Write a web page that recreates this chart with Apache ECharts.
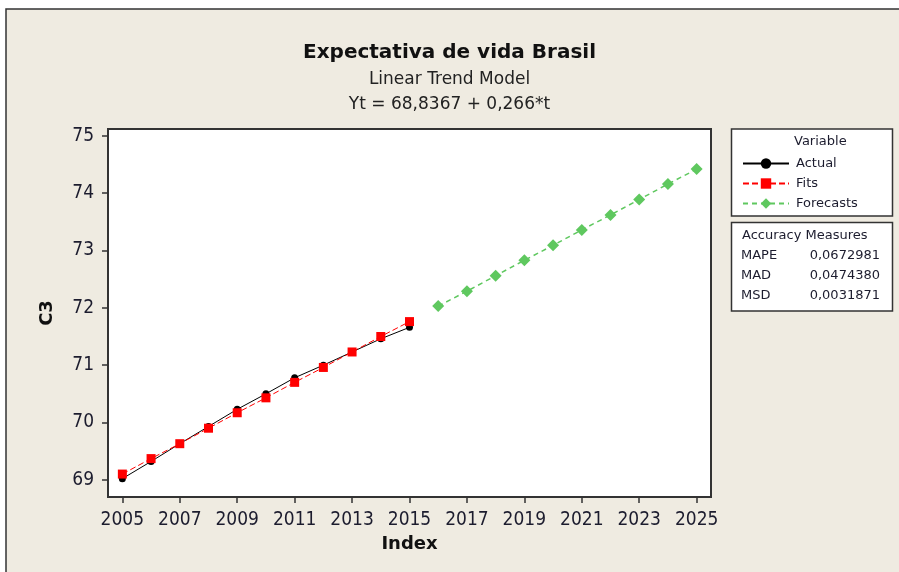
<!DOCTYPE html>
<html>
<head>
<meta charset="utf-8">
<script src="https://cdn.jsdelivr.net/npm/echarts@6/dist/echarts.min.js"></script>
<style>
  html, body { margin: 0; padding: 0; background: #fff; }
  #chart { width: 899px; height: 572px; }
</style>
</head>
<body>
<div id="chart"></div>
<script>
// data
const actualYears = [2005, 2006, 2007, 2008, 2009, 2010, 2011, 2012, 2013, 2014, 2015];
const actualValues = [69.02, 69.32, 69.63, 69.93, 70.23, 70.50, 70.78, 71.00, 71.23, 71.46, 71.66];
const fitValues = [69.10, 69.37, 69.63, 69.90, 70.17, 70.43, 70.70, 70.96, 71.23, 71.50, 71.76];
const forecastYears = [2016, 2017, 2018, 2019, 2020, 2021, 2022, 2023, 2024, 2025];
const forecastValues = [72.03, 72.29, 72.56, 72.83, 73.09, 73.36, 73.62, 73.89, 74.16, 74.42];
const xTicks = [2005, 2007, 2009, 2011, 2013, 2015, 2017, 2019, 2021, 2023, 2025];
const yTicks = [69, 70, 71, 72, 73, 74, 75];
const accuracyNames = ["MAPE", "MAD", "MSD"];
const accuracyValues = ["0,0672981", "0,0474380", "0,0031871"];

const font = "DejaVu Sans";
const condensed = "DejaVu Sans Condensed";
const textColor = "#1c1c2e";

let chart = echarts.init(document.getElementById("chart"));

let pairs = function(xs, ys) {
  return xs.map((x, i) => [x, ys[i]]);
};

let accuracyTexts = [];
for (let i = 0; i < accuracyNames.length; i++) {
  accuracyTexts.push({
    type: "text",
    left: 741,
    top: 249 + i * 20.3,
    style: { text: accuracyNames[i], fontFamily: font, fontSize: 13, fill: textColor }
  });
  accuracyTexts.push({
    type: "text",
    right: 19,
    top: 249 + i * 20.3,
    style: { text: accuracyValues[i], fontFamily: font, fontSize: 13, fill: textColor }
  });
}

let option = {
  backgroundColor: "#fff",
  animation: false,
  title: [
    {
      text: "Expectativa de vida Brasil",
      left: "center",
      top: 38,
      textStyle: { fontFamily: font, fontSize: 20, fontWeight: "bold", color: "#111" }
    },
    {
      text: "Linear Trend Model\nYt = 68,8367 + 0,266*t",
      left: "center",
      top: 62,
      textStyle: { fontFamily: font, fontSize: 17, fontWeight: "normal", color: "#222", lineHeight: 25 }
    }
  ],
  graphic: [
    {
      type: "rect",
      z: -10,
      shape: { x: 6, y: 9, width: 1000, height: 700 },
      style: { fill: "#efebe1", stroke: "#333", lineWidth: 1.5 }
    },
    {
      type: "rect",
      shape: { x: 731.5, y: 129, width: 161, height: 87 },
      style: { fill: "#fff", stroke: "#333", lineWidth: 1.5 }
    },
    {
      type: "text",
      left: 794,
      top: 135,
      style: { text: "Variable", fontFamily: font, fontSize: 13, fill: textColor }
    },
    {
      type: "rect",
      shape: { x: 731.5, y: 222.5, width: 161, height: 88.5 },
      style: { fill: "#fff", stroke: "#333", lineWidth: 1.5 }
    },
    {
      type: "text",
      left: 742,
      top: 229,
      style: { text: "Accuracy Measures", fontFamily: font, fontSize: 13, fill: textColor }
    }
  ].concat(accuracyTexts),
  legend: {
    orient: "vertical",
    left: 737,
    top: 152,
    itemWidth: 46,
    itemHeight: 13,
    itemGap: 7,
    textStyle: { fontFamily: font, fontSize: 13, color: textColor, padding: [0, 0, 0, 2] },
    data: ["Actual", "Fits", "Forecasts"]
  },
  grid: {
    left: 108,
    top: 129,
    right: 188,
    bottom: 75,
    show: true,
    backgroundColor: "#fff",
    borderColor: "#333",
    borderWidth: 2
  },
  xAxis: {
    type: "value",
    min: 2004.5,
    max: 2025.5,
    name: "Index",
    nameLocation: "middle",
    nameGap: 38,
    nameTextStyle: { fontFamily: font, fontSize: 18, fontWeight: "bold", color: "#111" },
    axisLine: { show: false },
    axisTick: { show: true, length: 6, customValues: xTicks, lineStyle: { color: "#333", width: 1.5 } },
    axisLabel: {
      customValues: xTicks,
      fontFamily: condensed,
      fontSize: 19,
      color: textColor,
      margin: 14,
      formatter: function(v) { return String(v); }
    },
    splitLine: { show: false }
  },
  yAxis: {
    type: "value",
    min: 68.7,
    max: 75.12,
    name: "C3",
    nameLocation: "middle",
    nameGap: 52,
    nameTextStyle: { fontFamily: font, fontSize: 18, fontWeight: "bold", color: "#111" },
    axisLine: { show: false },
    axisTick: { show: true, length: 6, customValues: yTicks, lineStyle: { color: "#333", width: 1.5 } },
    axisLabel: {
      customValues: yTicks,
      fontFamily: condensed,
      fontSize: 19,
      color: textColor,
      margin: 14
    },
    splitLine: { show: false }
  },
  series: [
    {
      name: "Actual",
      type: "line",
      data: pairs(actualYears, actualValues),
      symbol: "circle",
      symbolSize: 7,
      itemStyle: { color: "#000" },
      lineStyle: { color: "#000", width: 1 }
    },
    {
      name: "Fits",
      type: "line",
      data: pairs(actualYears, fitValues),
      symbol: "rect",
      symbolSize: 9,
      itemStyle: { color: "#ff0000" },
      lineStyle: { color: "#ff0000", width: 1, type: [6, 3] }
    },
    {
      name: "Forecasts",
      type: "line",
      data: pairs(forecastYears, forecastValues),
      symbol: "diamond",
      symbolSize: 12,
      itemStyle: { color: "#5fc85f" },
      lineStyle: { color: "#5fc85f", width: 1.5, type: [5, 4] }
    }
  ]
};

chart.setOption(option);
</script>
</body>
</html>
